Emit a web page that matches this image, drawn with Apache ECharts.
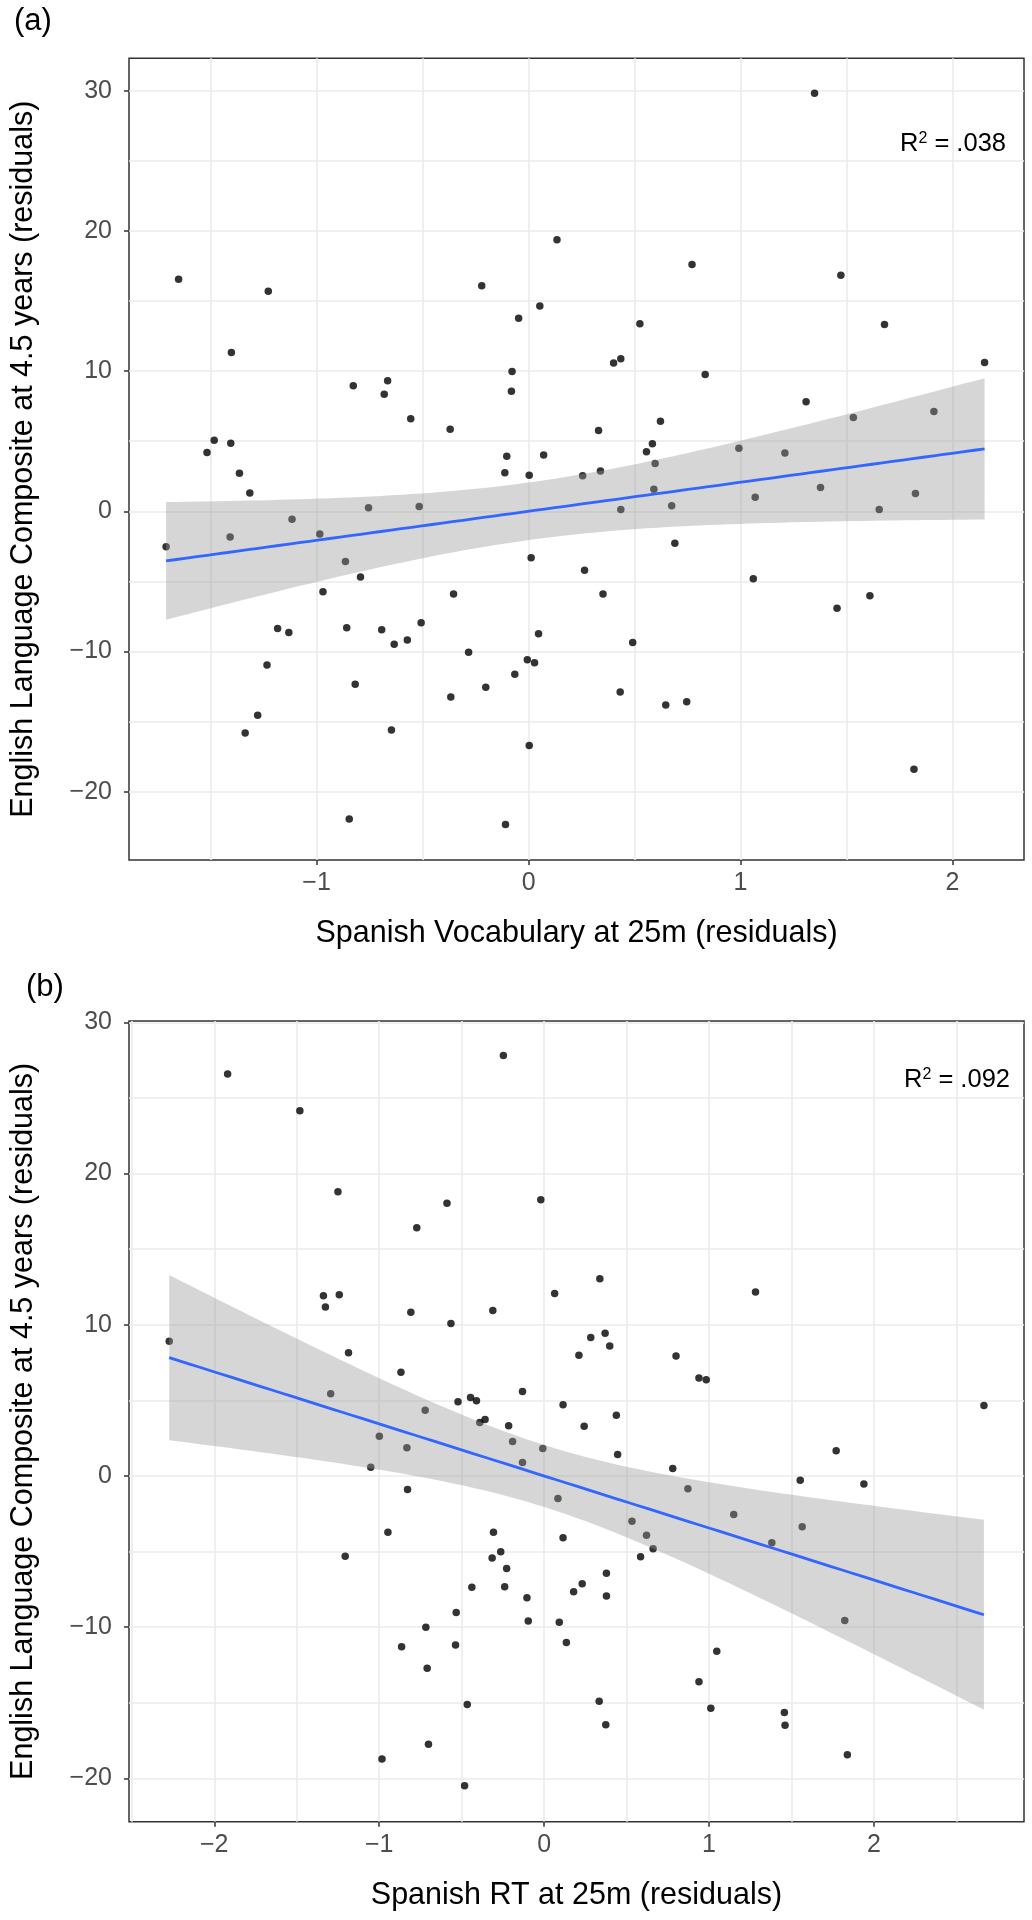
<!DOCTYPE html>
<html><head><meta charset="utf-8">
<script src="https://cdn.jsdelivr.net/npm/echarts@6/dist/echarts.min.js"></script>
<style>html,body{margin:0;padding:0;background:#fff}#c{width:1032px;height:1920px}</style>
</head><body><div id="c"></div>
<script>
// Panel (a): Spanish Vocabulary at 25m (residuals) vs English Language Composite
const vocabX = [-1.710,-1.651,-1.228,-1.402,-1.517,-1.483,-1.405,-1.364,-1.315,-1.408,-1.116,-0.985,-1.184,-1.131,-1.234,-1.278,-1.337,-0.846,-0.970,-0.864,-0.793,-0.858,-0.818,-0.827,-0.681,-0.665,-0.556,-0.755,-0.516,-0.693,-0.634,-0.572,-0.507,-0.647,-0.370,-0.354,-0.367,-0.283,-0.202,-0.221,-0.109,-0.065,-0.047,-0.078,-0.081,-0.103,-0.112,0.003,0.012,-0.006,0.028,0.003,0.047,0.053,0.071,0.134,0.255,0.264,0.330,0.339,0.351,0.401,0.435,0.435,0.432,0.491,0.525,0.556,0.584,0.597,0.622,0.591,0.675,0.690,0.647,0.746,0.771,0.833,0.992,1.069,1.060,1.209,1.309,1.349,1.377,1.455,1.473,1.532,1.610,1.654,1.679,1.818,1.825,1.912,2.151];
const vocabY = [-2.53,16.56,15.69,11.32,4.20,5.07,4.85,2.71,1.31,-1.84,-0.57,-1.62,-8.35,-8.65,-10.97,-14.55,-15.82,-21.94,-5.73,-3.58,-4.68,-8.30,-12.33,8.96,8.35,9.31,6.60,0.26,0.35,-8.44,-9.48,-9.18,-7.95,-15.60,5.86,-5.90,-13.24,-10.05,-12.54,16.08,-22.33,-11.63,13.77,9.97,8.57,3.93,2.75,2.58,-3.32,-10.58,-10.80,-16.70,-8.74,14.64,4.02,19.36,2.53,-4.20,5.77,2.88,-5.90,10.58,10.88,0.13,-12.89,-9.35,13.37,4.24,4.81,3.41,6.42,1.57,0.39,-2.27,-13.81,-13.59,17.61,9.75,4.50,1.01,-4.81,4.15,7.82,29.81,1.70,-6.91,16.83,6.69,-6.03,0.13,13.33,-18.40,1.27,7.12,10.62];
// Panel (b): Spanish RT at 25m (residuals) vs English Language Composite
const rtX = [-2.273,-1.919,-1.481,-1.250,-1.338,-1.326,-1.242,-1.186,-1.294,-1.206,-0.999,-1.051,-0.947,-0.983,-0.868,-0.832,-0.828,-0.864,-0.808,-0.772,-0.721,-0.717,-0.709,-0.701,-0.589,-0.565,-0.522,-0.533,-0.537,-0.482,-0.466,-0.446,-0.438,-0.410,-0.390,-0.358,-0.311,-0.307,-0.315,-0.263,-0.239,-0.227,-0.247,-0.215,-0.191,-0.131,-0.131,-0.104,-0.096,-0.020,-0.008,0.064,0.084,0.092,0.115,0.115,0.135,0.179,0.211,0.231,0.243,0.283,0.338,0.334,0.370,0.378,0.378,0.374,0.398,0.438,0.446,0.533,0.585,0.621,0.661,0.780,0.800,0.872,0.939,0.983,0.939,1.011,1.047,1.150,1.282,1.381,1.457,1.461,1.553,1.565,1.771,1.823,1.839,1.939,2.667];
const rtY = [8.91,26.58,24.15,18.80,11.91,11.18,11.99,8.14,5.43,-5.31,2.63,0.57,-3.73,-18.72,6.85,1.86,-0.89,-11.30,10.82,16.41,4.34,-10.01,-12.72,-17.75,18.03,10.09,4.90,-9.04,-11.18,-20.50,-15.11,5.19,-7.37,4.98,3.53,3.73,10.94,-3.73,-5.43,-5.02,-7.33,-6.12,27.80,3.32,2.27,5.59,0.89,-8.06,-9.60,18.27,1.82,12.07,-1.50,-9.68,4.70,-4.09,-11.02,-7.66,7.98,-7.13,3.28,9.16,13.05,-14.91,9.44,-6.44,-7.94,-16.45,8.59,4.01,1.42,-3.00,-5.35,-3.93,-4.82,0.49,7.94,-0.85,6.48,6.36,-13.61,-15.36,-11.59,-2.55,12.16,-4.42,-15.64,-16.49,-0.28,-3.36,1.66,-9.56,-18.44,-0.53,4.66];

// Tick labels / grid positions
const xTicksA = [-1, 0, 1, 2];
const xTicksB = [-2, -1, 0, 1, 2];
const yTicks = [-20, -10, 0, 10, 20, 30];
const xGridA = [-1.5, -1, -0.5, 0, 0.5, 1, 1.5, 2];
const xGridB = [-2.5, -2, -1.5, -1, -0.5, 0, 0.5, 1, 1.5, 2, 2.5];
const yGrid = [-20, -15, -10, -5, 0, 5, 10, 15, 20, 25, 30];

// Axis ranges
const xRangeA = [-1.885, 2.337];
const yRangeA = [-24.87, 32.31];
const xRangeB = [-2.517, 2.91];
const yRangeB = [-22.87, 30.09];

// Texts
const panelLabels = ['(a)', '(b)'];
const xTitles = ['Spanish Vocabulary at 25m (residuals)', 'Spanish RT at 25m (residuals)'];
const yTitle = 'English Language Composite at 4.5 years (residuals)';
const r2Values = ['.038', '.092'];

const FONT = '"Liberation Sans", Arial, Helvetica, sans-serif';

// Linear fit with 95% confidence band (as geom_smooth(method = "lm"))
function lmFit(xs, ys) {
  const n = xs.length;
  const mx = xs.reduce((a, b) => a + b, 0) / n;
  const my = ys.reduce((a, b) => a + b, 0) / n;
  let sxx = 0, sxy = 0;
  for (let i = 0; i < n; i++) { sxx += (xs[i] - mx) ** 2; sxy += (xs[i] - mx) * (ys[i] - my); }
  const b = sxy / sxx, a = my - b * mx;
  let sse = 0;
  for (let i = 0; i < n; i++) sse += (ys[i] - a - b * xs[i]) ** 2;
  const s = Math.sqrt(sse / (n - 2));
  const t = 1.9858;
  const x0 = Math.min(...xs), x1 = Math.max(...xs);
  const steps = 80, upper = [], lower = [], line = [];
  for (let k = 0; k <= steps; k++) {
    const x = x0 + (x1 - x0) * k / steps;
    const yh = a + b * x;
    const se = s * Math.sqrt(1 / n + (x - mx) ** 2 / sxx);
    upper.push([x, yh + t * se]);
    lower.push([x, yh - t * se]);
    line.push([x, yh]);
  }
  return { line, poly: upper.concat(lower.reverse()) };
}
const fitA = lmFit(vocabX, vocabY);
const fitB = lmFit(rtX, rtY);

const minus = v => (v < 0 ? '\u2212' : '') + Math.abs(v);

function dataAxis(gridIndex, range, ticks, isX, name) {
  return {
    type: 'value', gridIndex, min: range[0], max: range[1],
    position: isX ? 'bottom' : 'left',
    axisLine: { show: false, onZero: false },
    axisTick: { show: true, length: 5, lineStyle: { color: '#333', width: 1.5 }, customValues: ticks },
    axisLabel: { customValues: ticks, formatter: minus, fontSize: 25, color: '#4d4d4d', fontFamily: FONT, margin: isX ? 11 : 17 },
    splitLine: { show: false },
    name, nameLocation: 'middle', nameGap: isX ? 58 : 90,
    nameTextStyle: { fontSize: 30.5, color: '#000', fontFamily: FONT }
  };
}
function gridAxis(gridIndex, range, vals, isX) {
  return {
    type: 'value', gridIndex, min: range[0], max: range[1],
    position: isX ? 'bottom' : 'left',
    axisLine: { show: false, onZero: false },
    axisTick: { show: false, customValues: vals },
    axisLabel: { show: false },
    splitLine: { show: true, lineStyle: { color: '#ebebeb', width: 1.6 } }
  };
}

function panelSeries(xs, ys, fit, xi, yi) {
  return [
    { type: 'scatter', xAxisIndex: xi, yAxisIndex: yi, z: 2, symbolSize: 7.5,
      itemStyle: { color: '#000' }, data: xs.map((x, i) => [x, ys[i]]), silent: true },
    { type: 'custom', xAxisIndex: xi, yAxisIndex: yi, z: 3, silent: true,
      data: [[0, 0]],
      renderItem: (params, api) => ({
        type: 'polygon',
        shape: { points: fit.poly.map(p => api.coord(p)) },
        style: { fill: 'rgba(153,153,153,0.4)' }
      }) },
    { type: 'line', xAxisIndex: xi, yAxisIndex: yi, z: 4, showSymbol: false, silent: true,
      lineStyle: { color: '#3366FF', width: 2.8 }, data: fit.line }
  ];
}

const r2Rich = { s: { fontSize: 16, verticalAlign: 'top', lineHeight: 14, fill: '#000', fontFamily: FONT } };

const chart = echarts.init(document.getElementById('c'), null, { renderer: 'canvas' });
chart.setOption({
  animation: false,
  backgroundColor: '#fff',
  grid: [
    { left: 126, right: 8, top: 58.3, height: 801.7, show: true, borderColor: '#333', borderWidth: 1.5, backgroundColor: 'transparent' },
    { left: 126, right: 8, top: 1021, height: 800.7, show: true, borderColor: '#333', borderWidth: 1.5, backgroundColor: 'transparent' }
  ],
  xAxis: [
    dataAxis(0, xRangeA, xTicksA, true, xTitles[0]),
    gridAxis(0, xRangeA, xGridA, true),
    dataAxis(1, xRangeB, xTicksB, true, xTitles[1]),
    gridAxis(1, xRangeB, xGridB, true)
  ],
  yAxis: [
    dataAxis(0, yRangeA, yTicks, false, yTitle),
    gridAxis(0, yRangeA, yGrid, false),
    dataAxis(1, yRangeB, yTicks, false, yTitle),
    gridAxis(1, yRangeB, yGrid, false)
  ],
  series: [].concat(panelSeries(vocabX, vocabY, fitA, 0, 0), panelSeries(rtX, rtY, fitB, 2, 2)),
  graphic: [
    { type: 'text', left: 14, top: 6, style: { text: panelLabels[0], fontSize: 31, fill: '#000', fontFamily: FONT } },
    { type: 'text', left: 26, top: 972, style: { text: panelLabels[1], fontSize: 31, fill: '#000', fontFamily: FONT } },
    { type: 'text', x: 1006, y: 144, style: {
        text: 'R{s|2} = ' + r2Values[0], align: 'right', verticalAlign: 'middle', fontSize: 25.5, fill: '#000', fontFamily: FONT, rich: r2Rich } },
    { type: 'text', x: 1010, y: 1080, style: {
        text: 'R{s|2} = ' + r2Values[1], align: 'right', verticalAlign: 'middle', fontSize: 25.5, fill: '#000', fontFamily: FONT, rich: r2Rich } }
  ]
});
</script></body></html>
